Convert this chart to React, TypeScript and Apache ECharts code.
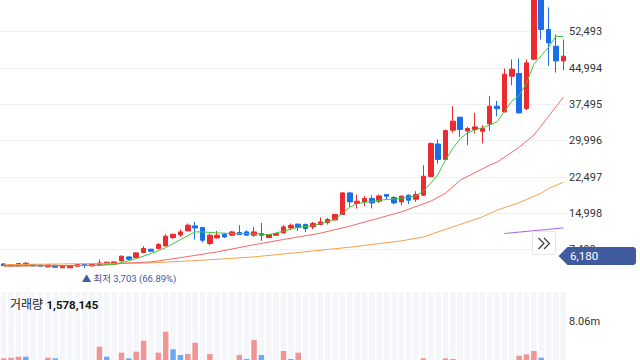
import React, { useEffect, useRef } from "react";
import * as echarts from "echarts";

// ---- data ----
const CATEGORIES: string[] = Array.from({ length: 77 }, (_, i) => `D${i + 1}`);

// [open, close, low, high]
const CANDLES: number[][] = [
  [4561, 4231, 4149, 4644], [4149, 4438, 4087, 4500], [4149, 4644, 4087, 4706], [4293, 4706, 4231, 4912],
  [4438, 4149, 4087, 4500], [4355, 4087, 4025, 4438], [3942, 4355, 3880, 4438], [4293, 3880, 3818, 4355],
  [3760, 4231, 3750, 4293], [3745, 4149, 3720, 4231], [4087, 4438, 4025, 4500], [4500, 4231, 3703, 4561],
  [4149, 4500, 4087, 4561], [4355, 4768, 4293, 5470], [4500, 4912, 4438, 4974], [4500, 4974, 4438, 5057],
  [5181, 6151, 5057, 6295], [6006, 5532, 5387, 6089], [5882, 6832, 5738, 6976], [6914, 7740, 6770, 8215],
  [7596, 7183, 7038, 7657], [7740, 8566, 7596, 8896], [8277, 10279, 8215, 10691], [10010, 10691, 9721, 10753],
  [10547, 11166, 10134, 11662], [11373, 12549, 11311, 12900], [12405, 11992, 9598, 13230], [12074, 9453, 8978, 12198],
  [8772, 10485, 8421, 10836], [9928, 10485, 9804, 11373], [10691, 10134, 9928, 10960], [10485, 11166, 10341, 11373],
  [11042, 10630, 10600, 12549], [11166, 10485, 10341, 11517], [10485, 11166, 10134, 12198], [10836, 10485, 9309, 13024],
  [10010, 10630, 9866, 10691], [10485, 10836, 10341, 10898], [10960, 12198, 10836, 12549], [11992, 12549, 11517, 12900],
  [12756, 12074, 11373, 12900], [12694, 11868, 11166, 12900], [12198, 12900, 11724, 13230], [12694, 13230, 12549, 14138],
  [13106, 13726, 12694, 14056], [13643, 14758, 13519, 14881], [14758, 19216, 14675, 19360], [19216, 17358, 16326, 19422],
  [17028, 17503, 15996, 18886], [17358, 18060, 16471, 18597], [18060, 17152, 15996, 18741], [17503, 18597, 17152, 18886],
  [18886, 18535, 17854, 18950], [18266, 17152, 16884, 18535], [17358, 18535, 16677, 18741], [18741, 17709, 16884, 18886],
  [17915, 18886, 17358, 19567], [18741, 22663, 18597, 24933], [22601, 29412, 22518, 29618], [29309, 26130, 25284, 30238],
  [26130, 32075, 25965, 32302], [32157, 34015, 31641, 37111], [34840, 32302, 30774, 34902], [31992, 32508, 29061, 32838],
  [32302, 32838, 31476, 35728], [31951, 32508, 29412, 33189], [33457, 37111, 32013, 39175], [37111, 36595, 35047, 38205],
  [35934, 43716, 35810, 44892], [43303, 44748, 41445, 46750], [43860, 35728, 35604, 46956], [36636, 46048, 36285, 46750],
  [46812, 62000, 46605, 63000], [61500, 52942, 50878, 62500], [52942, 50176, 45429, 57482], [49495, 46461, 44066, 51910],
  [46461, 47431, 44541, 50878],
];

// moving averages read as [categoryIndex, value]
const MA5: number[][] = [
  [0, 4190], [12, 4231], [15, 4438], [18, 5635], [20, 6708], [22, 7905], [24, 9556], [25, 10382], [26, 11166],
  [27, 11166], [29, 10960], [31, 10836], [34, 10795], [36, 10588], [38, 11311], [40, 12136], [42, 12446],
  [44, 13272], [45, 13788], [46, 15026], [47, 16264], [48, 16987], [50, 17503], [52, 17854], [54, 18060],
  [55, 18328], [56, 18638], [57, 19567], [58, 21218], [59, 23076], [60, 25965], [61, 28442], [62, 30403],
  [63, 31641], [64, 32157], [65, 32673], [66, 33189], [67, 33912], [68, 35976], [69, 38143], [70, 39278],
  [71, 41858], [72, 45780], [73, 47533], [74, 49288], [75, 51559], [76, 51455],
];
const MA20: number[][] = [
  [0, 4087], [13, 4293], [16, 4644], [20, 4974], [24, 5841], [29, 7038], [34, 8524], [38, 9598], [43, 10898],
  [47, 12343], [54, 15294], [58, 17503], [60, 19154], [62, 21837], [66, 24933], [67, 25552], [70, 28648],
  [72, 31125], [74, 35047], [76, 38968],
];
const MA60: number[][] = [
  [0, 4396], [13, 4644], [20, 4768], [27, 5325], [34, 6006], [40, 6914], [47, 8008], [54, 9309], [57, 10134],
  [61, 12198], [65, 14262], [67, 15645], [70, 17193], [73, 19154], [74, 20124], [76, 21424],
];
const MA120: number[][] = [[68, 10836], [72, 11414], [76, 11992]];

const VOLUME: number[] = [
  2490000, 2580000, 2730000, 2730000, 1500000, 1600000, 2580000, 2490000, 1800000, 1400000, 1200000, 1900000,
  1500000, 4220000, 2730000, 2000000, 3330000, 2490000, 3480000, 5120000, 2100000, 3330000, 6460000, 3840000,
  2990000, 3130000, 4820000, 2000000, 3130000, 1600000, 1300000, 1900000, 2990000, 2390000, 5220000, 2990000,
  1800000, 1500000, 3580000, 2390000, 3330000, 1700000, 1900000, 1500000, 1400000, 2000000, 2000000, 1800000,
  1300000, 1100000, 1200000, 1400000, 900000, 1100000, 1300000, 1000000, 1500000, 2490000, 2100000, 1900000,
  2490000, 2390000, 2000000, 1600000, 1500000, 1400000, 2100000, 1300000, 2200000, 2000000, 2880000, 3090000,
  3580000, 2580000, 2100000, 1900000, 1578145,
];
// 1 = rising (red), 0 = falling (blue)
const VOLUME_UP: number[] = [
  1, 1, 1, 0, 0, 0, 1, 0, 1, 1, 1, 0, 1, 1, 0, 1, 1, 0, 1, 1, 0, 1, 1, 0, 0, 1, 1, 0, 1, 1, 0, 1, 1, 0, 1, 0,
  1, 1, 1, 0, 1, 0, 1, 1, 1, 1, 1, 0, 1, 1, 0, 1, 0, 0, 1, 0, 1, 1, 1, 0, 1, 1, 0, 1, 1, 1, 1, 0, 1, 1, 1, 1,
  1, 0, 0, 0, 1,
];

const Y_TICK_INTERVAL = 7499;
const Y_MAX = 59030;
const VOL_TICK = 8060000;
const VOL_MAX = 12390000;
const LOW_INDEX = 11;
const LOW_VALUE = 3703;
const LOW_LABEL = "▲ 최저 3,703 (66.89%)";
const CURRENT_PRICE = 6180;
const CURRENT_LABEL = "6,180";
const VOLUME_TITLE = "거래량";
const VOLUME_LAST = "1,578,145";

const RED = "#eb2b2f";
const BLUE = "#1a6fe8";
const VOL_RED = "#f09494";
const VOL_BLUE = "#6eaaf2";
const FONT = 'Roboto, "Noto Sans CJK KR", sans-serif';

export default function App() {
  const ref = useRef<HTMLDivElement>(null);

  useEffect(() => {
    const chart = echarts.init(ref.current!, undefined, { renderer: "svg" });
    const hiddenX = {
      type: "category",
      data: CATEGORIES,
      boundaryGap: true,
      axisLine: { show: false },
      axisTick: { show: false },
      axisLabel: { show: false },
      splitLine: { show: false },
    };
    chart.setOption({
      animation: false,
      backgroundColor: "#ffffff",
      textStyle: { fontFamily: FONT },
      grid: [
        { left: -2.5, top: 0, width: 569.5, height: 286 },
        { left: -2.5, top: 292, width: 569.5, height: 83 },
      ],
      xAxis: [
        { ...hiddenX, gridIndex: 0 },
        { ...hiddenX, gridIndex: 1 },
      ],
      yAxis: [
        {
          type: "value",
          gridIndex: 0,
          position: "right",
          min: 0,
          max: Y_MAX,
          interval: Y_TICK_INTERVAL,
          axisLine: { show: false },
          axisTick: { show: false },
          axisLabel: {
            color: "#333333",
            fontSize: 11,
            margin: 2,
            showMinLabel: false,
            showMaxLabel: false,
            formatter: (v: number) => v.toLocaleString("en-US"),
          },
          splitLine: { show: true, showMinLine: false, showMaxLine: false, lineStyle: { color: "#eef0f4", width: 1 } },
        },
        {
          type: "value",
          gridIndex: 1,
          position: "right",
          min: 0,
          max: VOL_MAX,
          interval: VOL_TICK,
          axisLine: { show: false },
          axisTick: { show: false },
          splitLine: { show: false },
          axisLabel: {
            color: "#333333",
            fontSize: 11,
            margin: 2,
            showMinLabel: false,
            showMaxLabel: false,
            formatter: (v: number) => (v / 1e6).toFixed(2) + "m",
          },
        },
      ],
      series: [
        {
          type: "candlestick",
          xAxisIndex: 0,
          yAxisIndex: 0,
          data: CANDLES,
          barWidth: 5,
          clip: true,
          z: 2,
          itemStyle: { color: RED, color0: BLUE, borderColor: RED, borderColor0: BLUE, borderWidth: 1 },
          markPoint: {
            symbol: "circle",
            symbolSize: 0,
            data: [{ coord: [LOW_INDEX, LOW_VALUE] }],
            label: {
              show: true,
              position: "inside",
              align: "left",
              verticalAlign: "middle",
              offset: [-3, 10],
              formatter: LOW_LABEL,
              color: "#46589c",
              fontSize: 9.5,
              fontFamily: FONT,
            },
          },
        },
        { type: "line", name: "MA120", data: MA120, showSymbol: false, symbol: "none", z: 3, clip: true,
          lineStyle: { color: "#a764ea", width: 1 } },
        { type: "line", name: "MA60", data: MA60, showSymbol: false, symbol: "none", z: 3, clip: true,
          lineStyle: { color: "#f5a04c", width: 1 } },
        { type: "line", name: "MA20", data: MA20, showSymbol: false, symbol: "none", z: 3, clip: true,
          lineStyle: { color: "#f26a6a", width: 1 } },
        { type: "line", name: "MA5", data: MA5, showSymbol: false, symbol: "none", z: 3, clip: true,
          lineStyle: { color: "#3cc93c", width: 1 } },
        {
          type: "bar",
          xAxisIndex: 1,
          yAxisIndex: 1,
          barWidth: 5.5,
          showBackground: true,
          backgroundStyle: { color: "#f4f6fa" },
          data: VOLUME.map((v, i) => ({ value: v, itemStyle: { color: VOLUME_UP[i] ? VOL_RED : VOL_BLUE } })),
        },
      ],
    });

    const yc = chart.convertToPixel({ yAxisIndex: 0 }, CURRENT_PRICE) as number;
    chart.setOption({
      graphic: [
        {
          type: "text",
          left: 10,
          top: 299,
          z: 100,
          style: {
            text: `{a|${VOLUME_TITLE}} {b|${VOLUME_LAST}}`,
            rich: {
              a: { fontSize: 12, fill: "#222222", fontFamily: FONT },
              b: { fontSize: 11.5, fontWeight: "bold", fill: "#111111", fontFamily: FONT },
            },
          },
        },
        {
          type: "rect",
          z: 100,
          shape: { x: 532.5, y: 231.5, width: 23, height: 23, r: 1 },
          style: { fill: "#ffffff", stroke: "#e3e6eb", lineWidth: 1 },
        },
        {
          type: "polyline",
          z: 101,
          shape: { points: [[538.5, 238], [544, 243.5], [538.5, 249]] },
          style: { stroke: "#333333", lineWidth: 1.1, fill: "none" },
        },
        {
          type: "polyline",
          z: 101,
          shape: { points: [[544, 238], [549.5, 243.5], [544, 249]] },
          style: { stroke: "#333333", lineWidth: 1.1, fill: "none" },
        },
        {
          type: "polygon",
          z: 100,
          shape: {
            points: [
              [558.5, yc], [567.5, yc - 9], [634, yc - 9], [636, yc - 7],
              [636, yc + 7], [634, yc + 9], [567.5, yc + 9],
            ],
          },
          style: { fill: "#3f5b9e" },
        },
        {
          type: "text",
          z: 101,
          x: 570,
          y: yc,
          style: {
            text: CURRENT_LABEL,
            fill: "#ffffff",
            fontSize: 11.5,
            fontFamily: FONT,
            align: "left",
            verticalAlign: "middle",
          },
        },
      ],
    });

    return () => chart.dispose();
  }, []);

  return (
    <div style={{ position: "absolute", left: 0, top: 0, width: 640, height: 360, overflow: "hidden" }}>
      <div ref={ref} style={{ width: 640, height: 380 }} />
    </div>
  );
}
